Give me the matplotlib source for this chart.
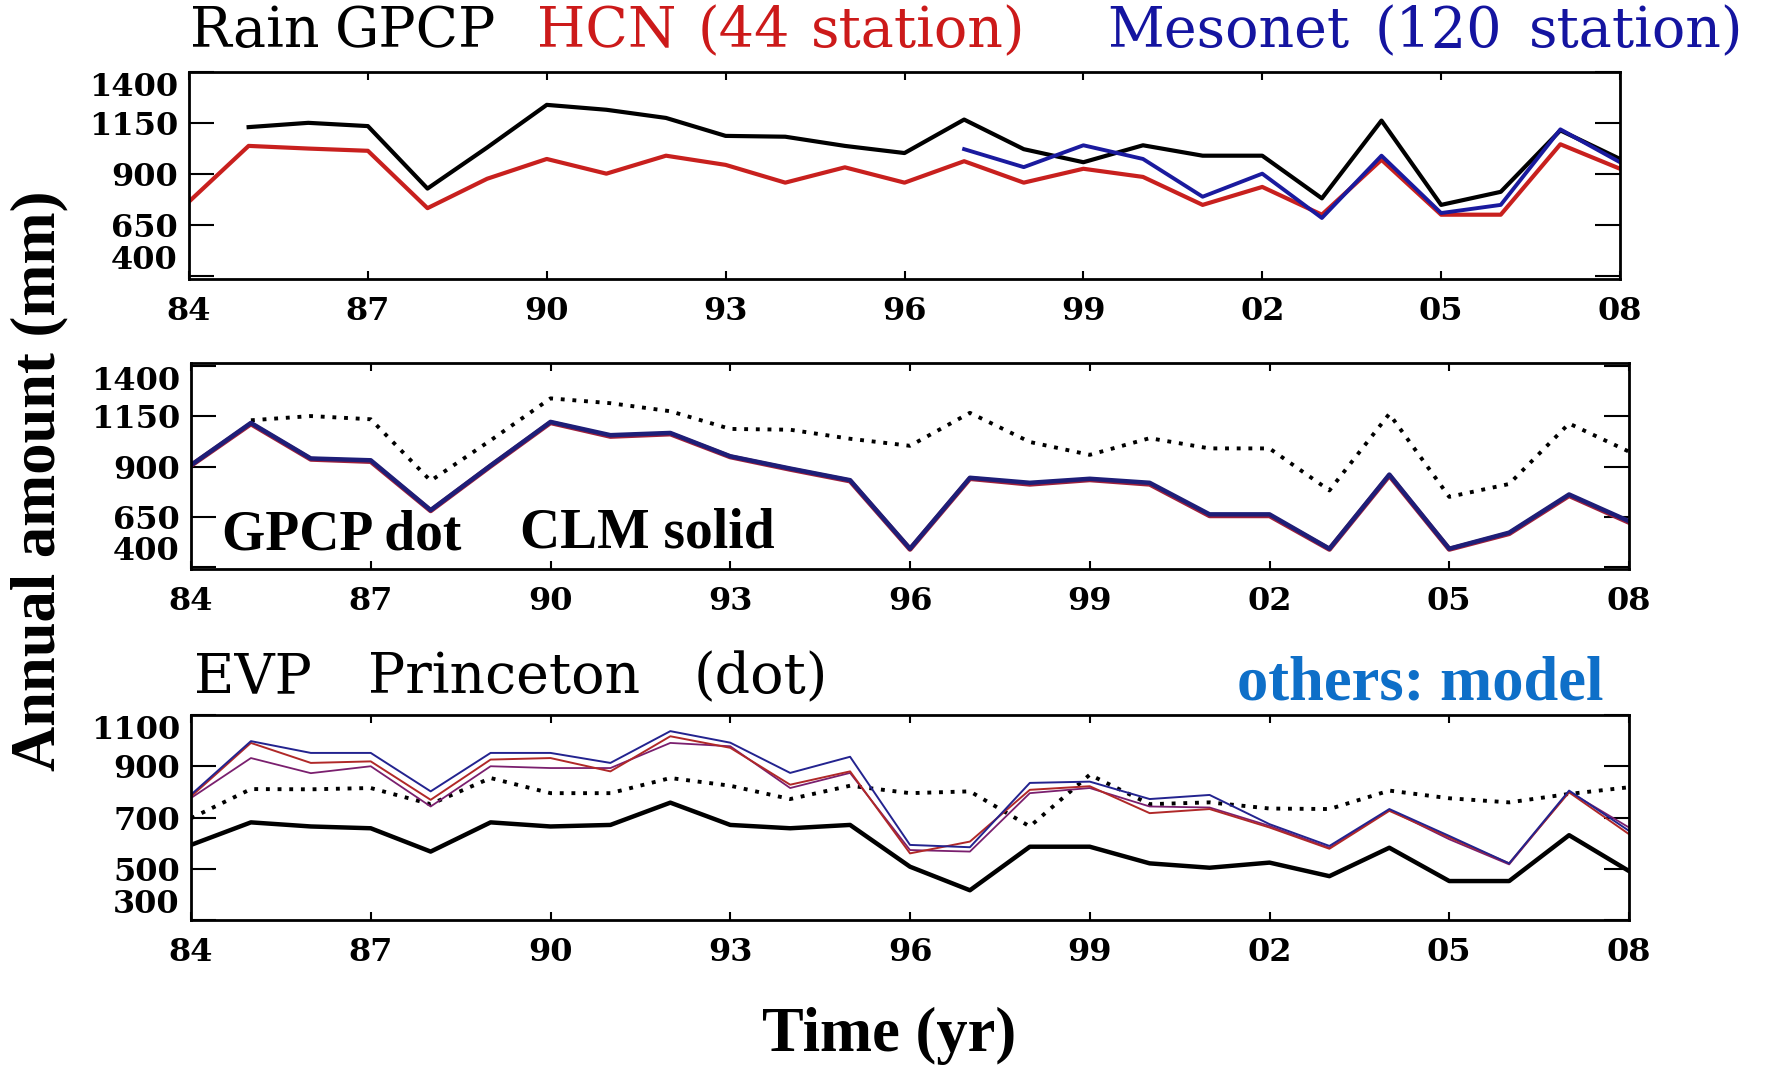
import numpy as np
import matplotlib
matplotlib.use("Agg")
import matplotlib.pyplot as plt

nan = np.nan
years = list(range(1984, 2009))
xtick_years = [1984, 1987, 1990, 1993, 1996, 1999, 2002, 2005, 2008]
xtick_labels = ['84', '87', '90', '93', '96', '99', '02', '05', '08']

# Panel 1: rain
rain_gpcp = [nan, 1130, 1151, 1135, 829, 1030, 1239, 1215, 1175, 1087, 1083, 1038, 1003,
             1167, 1022, 958, 1041, 990, 990, 781, 1162, 749, 813, 1114, 974]
rain_hcn = [765, 1038, 1025, 1014, 733, 877, 974, 902, 990, 945, 858, 933, 858,
            963, 858, 926, 886, 749, 837, 701, 970, 701, 701, 1046, 926]
rain_mesonet = [nan] * 13 + [1022, 934, 1041, 974, 789, 902, 685, 990, 709, 749, 1119, 958]
rain_yticks = [400, 650, 900, 1150, 1400]

# Panel 2: CLM vs GPCP
clm_blue = [907, 1117, 940, 931, 683, 905, 1122, 1056, 1067, 951, 890, 832, 491,
            844, 819, 839, 819, 662, 662, 491, 860, 491, 571, 761, 628]
clm_red = [905, 1112, 936, 925, 680, 902, 1118, 1050, 1062, 948, 886, 828, 488,
           840, 812, 834, 812, 655, 655, 488, 855, 488, 566, 755, 622]
clm_yticks = [400, 650, 900, 1150, 1400]

# Panel 3: EVP
evp_princeton = [697, 811, 810, 815, 752, 854, 795, 795, 854, 824, 772, 824, 795,
                 802, 665, 867, 752, 759, 735, 733, 805, 775, 759, 792, 818]
evp_black = [593, 681, 665, 658, 567, 681, 665, 671, 758, 671, 658, 671, 508,
             416, 586, 586, 521, 504, 524, 471, 582, 452, 452, 631, 491]
evp_blue = [789, 998, 952, 952, 802, 952, 952, 913, 1037, 992, 874, 937, 593,
            584, 835, 840, 772, 788, 674, 589, 733, 628, 521, 805, 648]
evp_red = [782, 991, 913, 919, 769, 926, 932, 880, 1017, 972, 828, 880, 560,
           606, 808, 822, 717, 733, 661, 578, 726, 622, 521, 798, 635]
evp_purple = [776, 932, 873, 900, 743, 900, 893, 893, 991, 978, 815, 874, 573,
              567, 795, 815, 743, 739, 667, 582, 730, 615, 517, 801, 661]
evp_yticks = [300, 500, 700, 900, 1100]

W, H = 1766, 1068
fig = plt.figure(figsize=(W / 100, H / 100), dpi=100)

def px_axes(l, t, r, b):
    return fig.add_axes([l / W, 1 - b / H, (r - l) / W, (b - t) / H])

ax1 = px_axes(189, 72, 1620, 279)
ax2 = px_axes(191, 363, 1629, 569)
ax3 = px_axes(191, 715, 1629, 920)

tick_font = dict(family='DejaVu Serif', weight='bold', size=23)
dot = (0, (1, 2))

def style(ax, ylim, yticks):
    ax.set_xlim(1984, 2008)
    ax.set_ylim(*ylim)
    ax.set_xticks(xtick_years)
    ax.set_xticklabels(xtick_labels, fontdict=tick_font)
    ax.set_yticks(yticks)
    ax.set_yticklabels([str(v) for v in yticks], fontdict=tick_font)
    ax.tick_params(axis='x', direction='in', length=6, width=1.5, top=True, bottom=True, pad=12)
    ax.tick_params(axis='y', direction='in', length=18, width=1.5, left=True, right=True, pad=8)
    for s in ax.spines.values():
        s.set_linewidth(2)
    labs = ax.get_yticklabels()
    labs[0].set_va('bottom')
    labs[-1].set_va('top')

# Panel 1
ax1.plot(years, rain_gpcp, color='black', lw=3.0)
ax1.plot(years, rain_hcn, color='#c8201e', lw=3.0)
ax1.plot(years, rain_mesonet, color='#1a1a9e', lw=2.8)
style(ax1, (386, 1400), rain_yticks)

# Panel 2
ax2.plot(years, rain_gpcp, color='black', lw=2.8, ls=dot)
ax2.plot(years, clm_red, color='#a0203a', lw=3.6)
ax2.plot(years, clm_blue, color='#1e1e78', lw=3.2)
style(ax2, (390, 1415), clm_yticks)

# Panel 3
ax3.plot(years, evp_princeton, color='black', lw=2.8, ls=dot)
ax3.plot(years, evp_black, color='black', lw=3.2)
ax3.plot(years, evp_purple, color='#7a1f6e', lw=1.3)
ax3.plot(years, evp_red, color='#b02828', lw=1.4)
ax3.plot(years, evp_blue, color='#23238f', lw=1.4)
style(ax3, (300, 1100), evp_yticks)

# Titles: words spread evenly across the span they occupy in the original
title_font = dict(family='DejaVu Serif', size=40, va='center', ha='left')
renderer = fig.canvas.get_renderer()

def spread(words, x0, x1, ypx, color):
    texts = [fig.text(0, 1 - ypx / H, w, color=color, **title_font) for w in words]
    widths = [t.get_window_extent(renderer).width for t in texts]
    gap = 0 if len(words) == 1 else (x1 - x0 - sum(widths)) / (len(words) - 1)
    x = x0
    for t, w in zip(texts, widths):
        t.set_x(x / W)
        x += w + gap

spread(['Rain', 'GPCP'], 190, 496, 32, 'black')
spread(['HCN', '(44', 'station)'], 537, 1025, 32, '#cc1a1a')
spread(['Mesonet', '(120', 'station)'], 1107, 1743, 32, '#1414a0')
spread(['EVP'], 194, 302, 678, 'black')
spread(['Princeton', '(dot)'], 368, 828, 678, 'black')

ann_font = dict(family='Liberation Serif', weight='bold', va='center', ha='left')
fig.text(222 / W, 1 - 535 / H, 'GPCP dot', color='black', size=40, **ann_font)
fig.text(520 / W, 1 - 533 / H, 'CLM solid', color='black', size=40, **ann_font)
fig.text(1237 / W, 1 - 685 / H, 'others: model', color='#0e6fc8', size=45, **ann_font)

lab_font = dict(family='Liberation Serif', weight='bold', size=45, va='center', ha='center')
fig.text(39 / W, 1 - 481 / H, 'Annual amount (mm)', rotation=90, **lab_font)
fig.text(889 / W, 1 - 1036 / H, 'Time (yr)', **lab_font)

fig.savefig('out.png', dpi=100)
